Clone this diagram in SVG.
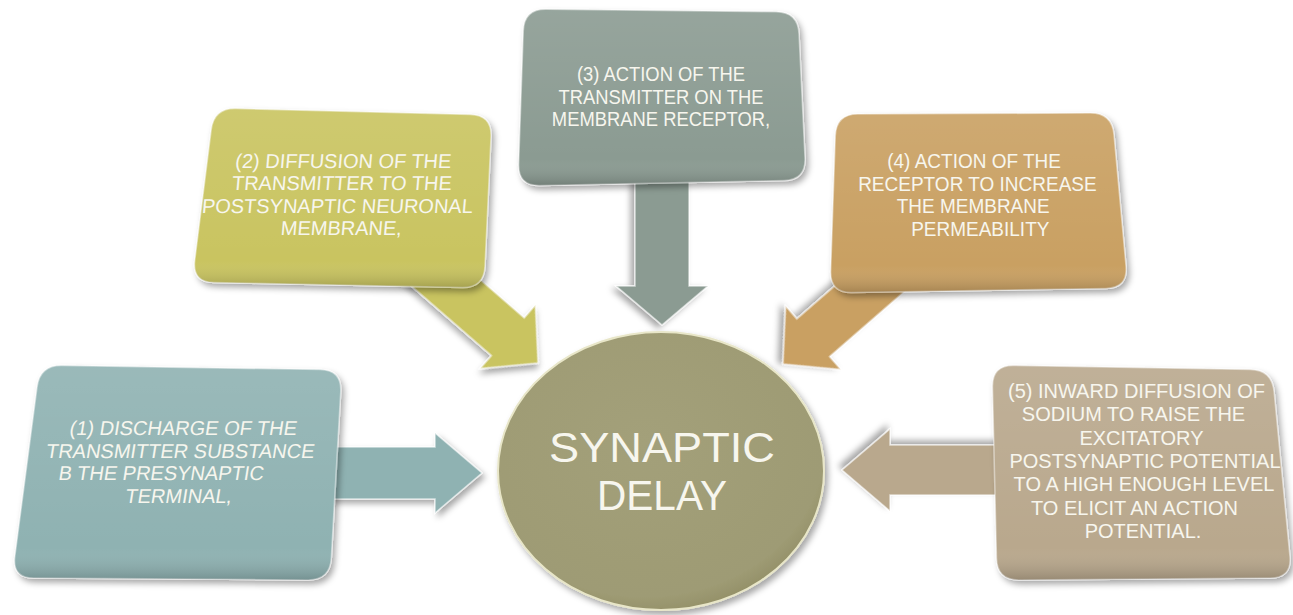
<svg xmlns="http://www.w3.org/2000/svg" width="1293" height="615" viewBox="0 0 1293 615">
<defs>
  <filter id="sh" x="-20%" y="-20%" width="140%" height="140%">
    <feDropShadow dx="3" dy="4" stdDeviation="3" flood-color="#000" flood-opacity="0.35"/>
  </filter>
  <linearGradient id="gloss" x1="0" y1="0" x2="0" y2="1">
    <stop offset="0" stop-color="#fff" stop-opacity="0.10"/>
    <stop offset="0.85" stop-color="#fff" stop-opacity="0"/>
    <stop offset="1" stop-color="#000" stop-opacity="0.18"/>
  </linearGradient>
  <radialGradient id="disc" cx="0.45" cy="0.4" r="0.65">
    <stop offset="0" stop-color="#a3a07a"/>
    <stop offset="0.85" stop-color="#9e9b74"/>
    <stop offset="1" stop-color="#8e8a62"/>
  </radialGradient>
</defs>
<style>
  .box { stroke: #ffffff; stroke-opacity: 0.45; stroke-width: 1.5; filter: url(#sh); }
  .arr { stroke: #ffffff; stroke-opacity: 0.6; stroke-width: 1.5; stroke-linejoin: miter; filter: url(#sh); }
  .lbl { font-family: "Liberation Sans", Arial, sans-serif; font-size: 20px; fill: #f7f6ee; text-anchor: middle; }
  .big { font-family: "Liberation Sans", Arial, sans-serif; font-size: 43px; fill: #f7f6ee; text-anchor: middle; }
  .c1 { fill: #8fb2b2; } .c2 { fill: #c9c461; } .c3 { fill: #8b9b92; } .c4 { fill: #c9a062; } .c5 { fill: #b9a88d; }
</style>
<rect width="1293" height="615" fill="#ffffff"/>

<g id="connectors">
  <path class="arr c1" transform="translate(482,473)" d="M0,0 L-47,-40 L-47,-26 L-160,-26 L-160,26 L-47,26 L-47,40 Z"/>
  <path class="arr c2" transform="translate(538,363) rotate(41)" d="M0,0 L-40,-42 L-40,-25 L-175,-25 L-175,25 L-40,25 L-40,42 Z"/>
  <path class="arr c3" transform="translate(662,325) rotate(90)" d="M0,0 L-39,-46 L-39,-27 L-150,-27 L-150,27 L-39,27 L-39,46 Z"/>
  <path class="arr c4" transform="translate(783,364) rotate(139)" d="M0,0 L-40,-42 L-40,-25 L-175,-25 L-175,25 L-40,25 L-40,42 Z"/>
  <path class="arr c5" transform="translate(842,470) rotate(180)" d="M0,0 L-48,-41 L-48,-25 L-160,-25 L-160,25 L-48,25 L-48,41 Z"/>
</g>

<g id="node1">
  <path class="box c1" d="M62,365.4 L320,369.6 Q342,370 340.7,392 L331.3,558 Q330,580 308,579.9 L34,578.1 Q12,578 14.9,556.2 L37.1,386.8 Q40,365 62,365.4 Z"/>
  <path fill="url(#gloss)" d="M62,365.4 L320,369.6 Q342,370 340.7,392 L331.3,558 Q330,580 308,579.9 L34,578.1 Q12,578 14.9,556.2 L37.1,386.8 Q40,365 62,365.4 Z"/>
  <g transform="translate(180,468) skewX(-9)">
    <text class="lbl" x="-2.8" y="-33">(1) DISCHARGE OF THE</text>
    <text class="lbl" x="-2.3" y="-10.3">TRANSMITTER SUBSTANCE</text>
    <text class="lbl" x="-17.7" y="12.3">B THE PRESYNAPTIC</text>
    <text class="lbl" x="3.4" y="35">TERMINAL,</text>
  </g>
</g>

<g id="node2">
  <path class="box c2" d="M236,108.6 L470,114.4 Q492,115 491,137 L485,266 Q484,288 462,287.5 L214,282.5 Q192,282 194.8,260.2 L211.2,129.8 Q214,108 236,108.6 Z"/>
  <path fill="url(#gloss)" d="M236,108.6 L470,114.4 Q492,115 491,137 L485,266 Q484,288 462,287.5 L214,282.5 Q192,282 194.8,260.2 L211.2,129.8 Q214,108 236,108.6 Z"/>
  <g transform="translate(342,200) skewX(-5)">
    <text class="lbl" x="-2" y="-32.5">(2) DIFFUSION OF THE</text>
    <text class="lbl" x="-1.5" y="-10">TRANSMITTER TO THE</text>
    <text class="lbl" x="-4.1" y="12.5">POSTSYNAPTIC NEURONAL</text>
    <text class="lbl" x="1.9" y="35">MEMBRANE,</text>
  </g>
</g>

<g id="node3">
  <path class="box c3" d="M546,9.2 L776,11.8 Q798,12 799,34 L805,158 Q806,180 784,180.5 L540,185.5 Q518,186 518.7,164 L523.3,31 Q524,9 546,9.2 Z"/>
  <path fill="url(#gloss)" d="M546,9.2 L776,11.8 Q798,12 799,34 L805,158 Q806,180 784,180.5 L540,185.5 Q518,186 518.7,164 L523.3,31 Q524,9 546,9.2 Z"/>
  <g transform="translate(661,0) scale(0.92,1)">
    <text class="lbl" x="0" y="81.5">(3) ACTION OF THE</text>
    <text class="lbl" x="0" y="104">TRANSMITTER ON THE</text>
    <text class="lbl" x="0" y="126.5">MEMBRANE RECEPTOR,</text>
  </g>
</g>

<g id="node4">
  <path class="box c4" d="M858,113.9 L1090,113.1 Q1112,113 1114,134.9 L1126,266.1 Q1128,288 1106,288.4 L852,292.6 Q830,293 830.7,271 L835.3,136 Q836,114 858,113.9 Z"/>
  <path fill="url(#gloss)" d="M858,113.9 L1090,113.1 Q1112,113 1114,134.9 L1126,266.1 Q1128,288 1106,288.4 L852,292.6 Q830,293 830.7,271 L835.3,136 Q836,114 858,113.9 Z"/>
  <g transform="translate(976,0) scale(0.95,1)">
    <text class="lbl" x="-2" y="168">(4) ACTION OF THE</text>
    <text class="lbl" x="1.5" y="190.7">RECEPTOR TO INCREASE</text>
    <text class="lbl" x="-3" y="213.3">THE MEMBRANE</text>
    <text class="lbl" x="4.5" y="236">PERMEABILITY</text>
  </g>
</g>

<g id="node5">
  <path class="box c5" d="M1014,365.4 L1250,369.6 Q1272,370 1274.1,391.9 L1289.9,556.1 Q1292,578 1270,578.1 L1019,579.9 Q997,580 996.5,558 L992.5,387 Q992,365 1014,365.4 Z"/>
  <path fill="url(#gloss)" d="M1014,365.4 L1250,369.6 Q1272,370 1274.1,391.9 L1289.9,556.1 Q1292,578 1270,578.1 L1019,579.9 Q997,580 996.5,558 L992.5,387 Q992,365 1014,365.4 Z"/>
  <text class="lbl" x="1136.5" y="398">(5) INWARD DIFFUSION OF</text>
  <text class="lbl" x="1133.5" y="421.3">SODIUM TO RAISE THE</text>
  <text class="lbl" x="1141.5" y="444.6">EXCITATORY</text>
  <text class="lbl" x="1145" y="468">POSTSYNAPTIC POTENTIAL</text>
  <text class="lbl" x="1144" y="491.3">TO A HIGH ENOUGH LEVEL</text>
  <text class="lbl" x="1134.5" y="514.6">TO ELICIT AN ACTION</text>
  <text class="lbl" x="1143" y="538">POTENTIAL.</text>
</g>

<g id="center">
  <ellipse cx="661" cy="471" rx="163" ry="139" fill="url(#disc)" stroke="#e8e6c8" stroke-width="2" filter="url(#sh)"/>
  <text class="big" x="662" y="462" textLength="226" lengthAdjust="spacingAndGlyphs">SYNAPTIC</text>
  <text class="big" x="662" y="510" textLength="130" lengthAdjust="spacingAndGlyphs">DELAY</text>
</g>
</svg>
